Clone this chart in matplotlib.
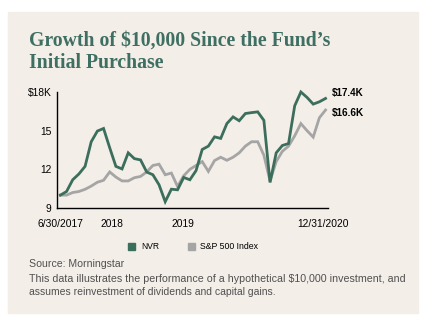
import matplotlib.pyplot as plt
from matplotlib.patches import Rectangle
import numpy as np

# monthly values, growth of $10,000 (in $K)
nvr = [10.0, 10.28, 11.19, 11.64, 12.23, 14.14, 14.97, 15.17, 13.67, 12.23,
       12.03, 13.28, 12.83, 12.73, 11.79, 11.58, 10.80, 9.49, 10.46, 10.41,
       11.37, 11.19, 11.9, 13.54, 13.8, 14.52, 14.4, 15.55, 16.07, 15.77,
       16.33, 16.4, 16.46, 15.8, 10.98, 13.28, 13.85, 14.0, 16.93, 18.0,
       17.58, 17.06, 17.24, 17.5]
sp500 = [10.0, 10.0, 10.2, 10.28, 10.45, 10.7, 11.0, 11.15, 11.8, 11.4,
         11.1, 11.1, 11.35, 11.45, 11.8, 12.3, 12.4, 11.58, 11.71, 10.67,
         11.5, 12.0, 12.3, 12.6, 11.84, 12.68, 12.94, 12.7, 12.94, 13.28,
         13.8, 14.14, 14.14, 13.1, 11.1, 12.6, 13.4, 13.8, 14.6, 15.55,
         15.0, 14.5, 16.0, 16.6]
x_ticks = [0, 8.4, 19.9, 42.6]
x_labels = ['6/30/2017', '2018', '2019', '12/31/2020']
y_ticks = [9, 12, 15, 18]
y_labels = ['9', '12', '15', '$18K']
end_labels = ['$17.4K', '$16.6K']

green = '#3b6e5c'
gray = '#a5a5a5'
panel = '#f3eee8'
sans = 'Liberation Sans'

fig = plt.figure(figsize=(4.31, 3.23), dpi=100)
fig.patch.set_facecolor('white')
fig.patches.append(Rectangle((8 / 431, 1 - 313 / 323), 410 / 431, 301 / 323,
                             transform=fig.transFigure, color=panel, zorder=-5))

fig.text(29 / 431, 1 - 46 / 323, "Growth of $10,000 Since the Fund\u2019s",
         family='Liberation Serif', weight='bold', fontsize=14.2, color='#3f6f63')
fig.text(29 / 431, 1 - 68 / 323, "Initial Purchase",
         family='Liberation Serif', weight='bold', fontsize=14.2, color='#3f6f63')

ax = fig.add_axes([57 / 431, 1 - 208 / 323, 271 / 431, 116 / 323])
ax.set_facecolor('none')
ax.set_zorder(2)
x = np.arange(len(nvr))
ax.plot(x, sp500, color=gray, lw=2, solid_joinstyle='miter', clip_on=False)
ax.plot(x, nvr, color=green, lw=2, solid_joinstyle='miter', clip_on=False)

ax.set_xlim(-0.55, 43.4)
ax.set_ylim(9, 18)
ax.set_xticks(x_ticks)
ax.set_xticklabels(x_labels, fontsize=7.4, family=sans)
ax.set_yticks(y_ticks)
ax.set_yticklabels(y_labels, fontsize=7.4, family=sans)
ax.tick_params(axis='x', length=0, pad=8)
ax.tick_params(axis='y', length=0, pad=4)
for s in ['top', 'right']:
    ax.spines[s].set_visible(False)
ax.spines['left'].set_linewidth(1)
ax.spines['bottom'].set_linewidth(1)

fitted = []
t1 = ax.text(44.1, 17.95, end_labels[0], fontsize=8, weight='bold', va='center', family=sans)
t2 = ax.text(44.1, 16.4, end_labels[1], fontsize=8, weight='bold', va='center', family=sans)
fitted += [(t1, 32), (t2, 32)]

# legend
fig.patches.append(Rectangle((128 / 431, 1 - 250 / 323), 7 / 431, 7 / 323,
                             transform=fig.transFigure, color=green))
t = fig.text(141 / 431, 1 - 246.5 / 323, 'NVR', fontsize=8, va='center', family=sans)
fitted.append((t, 18))
fig.patches.append(Rectangle((188 / 431, 1 - 250 / 323), 7 / 431, 7 / 323,
                             transform=fig.transFigure, color=gray))
t = fig.text(200 / 431, 1 - 246.5 / 323, 'S&P 500 Index', fontsize=8, va='center', family=sans)
fitted.append((t, 58))

note_color = '#505050'
t = fig.text(29 / 431, 1 - 264 / 323, 'Source: Morningstar', fontsize=8,
             va='center', color=note_color, family=sans)
fitted.append((t, 95))
t = fig.text(29 / 431, 1 - 279 / 323,
             'This data illustrates the performance of a hypothetical $10,000 investment, and',
             fontsize=8, va='center', color=note_color, family=sans)
fitted.append((t, 375))
t = fig.text(29 / 431, 1 - 292 / 323,
             'assumes reinvestment of dividends and capital gains.',
             fontsize=8, va='center', color=note_color, family=sans)
fitted.append((t, 247))

# scale text sizes so widths match the reference's condensed face
r = fig.canvas.get_renderer()
for t, w in fitted:
    t.set_fontsize(t.get_fontsize() * w / t.get_window_extent(r).width)

plt.savefig('out.png', dpi=100)
